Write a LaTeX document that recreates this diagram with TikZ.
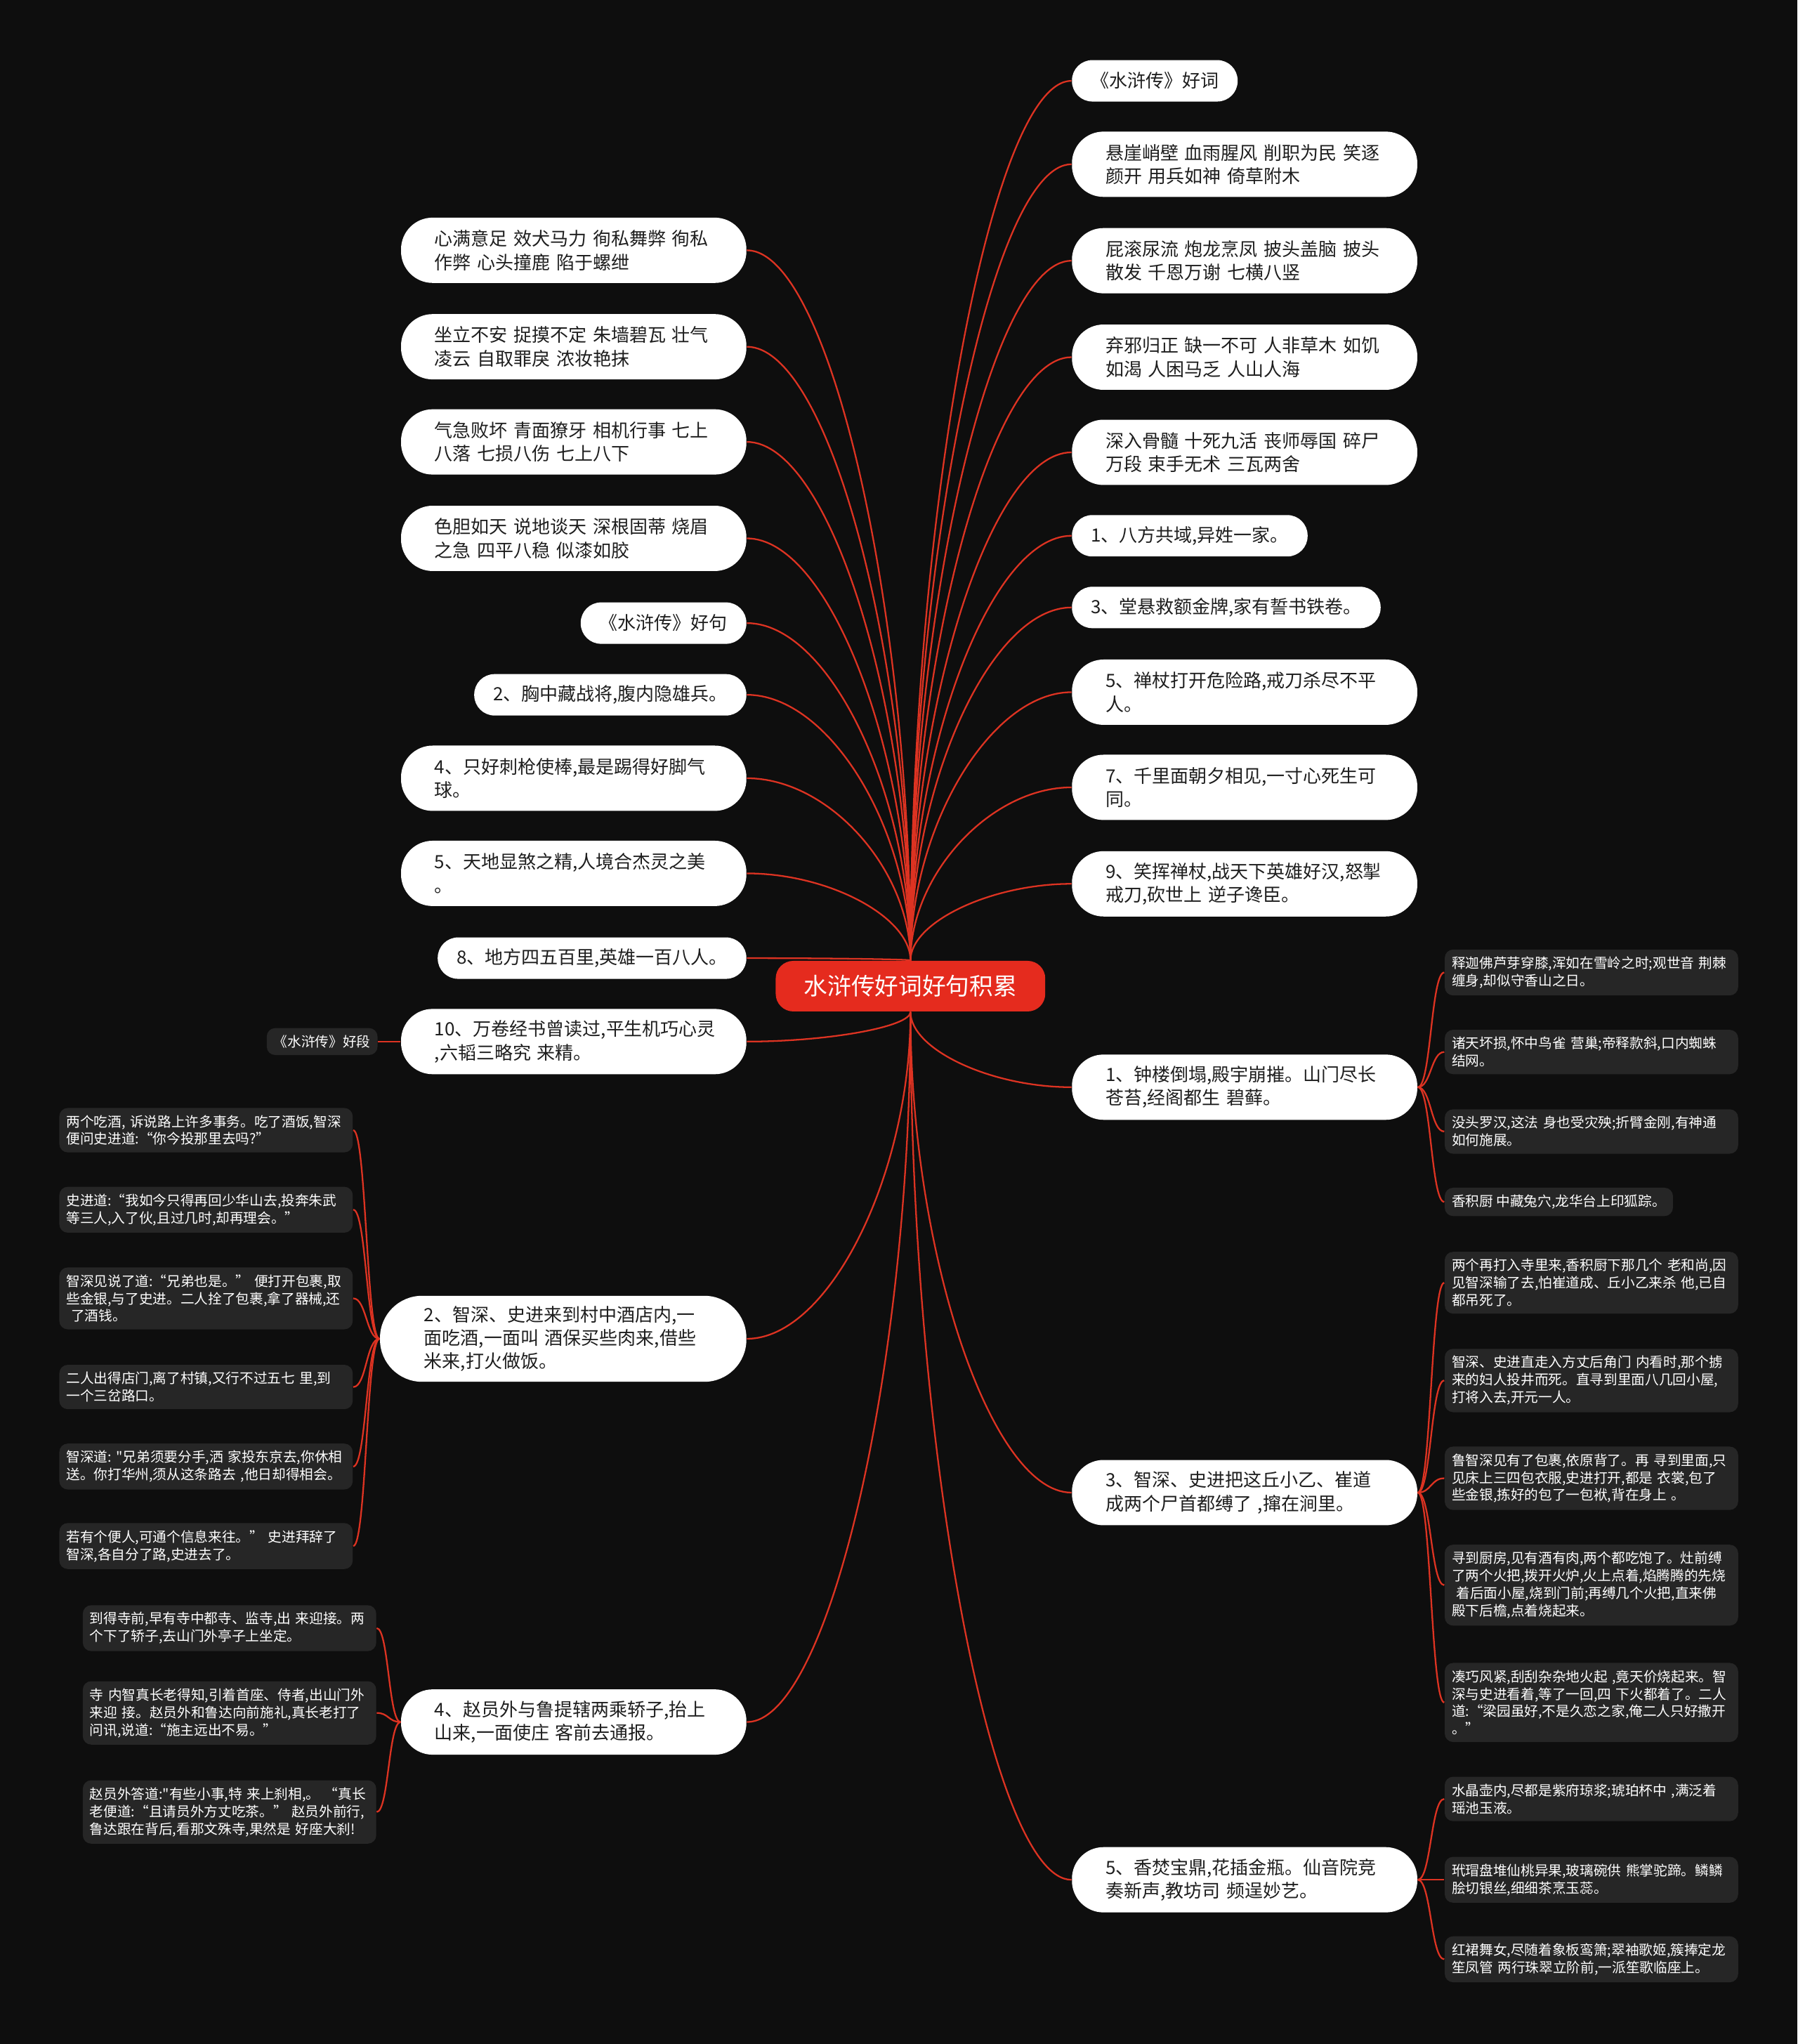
\documentclass[tikz,border=0pt]{standalone}
\usepackage{fontspec}
\setmainfont{Noto Sans CJK SC}[Ligatures=TeXOff]
\usetikzlibrary{calc}

\definecolor{bgdark}{HTML}{0E0E0E}
\definecolor{rootred}{HTML}{E52B1E}
\definecolor{wirered}{HTML}{DD3322}
\definecolor{cardgray}{HTML}{262626}
\definecolor{ink}{HTML}{1E1E1E}

\pgfdeclarelayer{back}
\pgfdeclarelayer{wires}
\pgfsetlayers{back,wires,main}

\tikzset{
  hub/.style={fill=rootred, text=white, rounded corners=0.25cm,
    minimum width=3.84cm, minimum height=0.72cm, font=\fontsize{9.6pt}{11pt}\selectfont},
  leaf/.style={fill=white, text=ink, rounded corners=0.29cm, inner xsep=0.27cm,
    minimum height=0.59cm, font=\fontsize{7.4pt}{9.5pt}\selectfont},
  wide/.style={leaf, text width=3.96cm, align=left, inner xsep=0.48cm,
    inner ysep=0.1cm, minimum height=0.93cm, rounded corners=0.45cm},
  card/.style={fill=cardgray, text=white, rounded corners=0.12cm, inner xsep=0.1cm,
    inner ysep=0.1cm, font=\fontsize{5.6pt}{7.1pt}\selectfont},
  longcard/.style={card, text width=3.98cm, align=left},
  branch/.style={draw=wirered, line width=0.65pt,
    to path={.. controls ($(\tikztostart)!0.5!(\tikztostart |- \tikztotarget)$)
      and ($(\tikztotarget)!0.5!(\tikztostart |- \tikztotarget)$) .. (\tikztotarget)}},
  twig/.style={draw=wirered, line width=0.65pt,
    to path={.. controls ($(\tikztostart)!0.5!(\tikztotarget |- \tikztostart)$)
      and ($(\tikztotarget)!0.5!(\tikztostart |- \tikztotarget)$) .. (\tikztotarget)}},
}

\begin{document}
\begin{tikzpicture}[x=0.018564cm, y=-0.018564cm]
  \begin{pgfonlayer}{back}
    \fill[bgdark] (0,0) rectangle (1379,1568);
  \end{pgfonlayer}

  \node[hub] (root) at (698.5,756.5) {水浒传好词好句积累};

  % right column
  \node[leaf, anchor=west] (r1) at (822,62) {《水浒传》好词};
  \node[wide, anchor=west] (r2) at (822,126) {悬崖峭壁~血雨腥风~削职为民~笑逐\\颜开~用兵如神~倚草附木};
  \node[wide, anchor=west] (r3) at (822,200) {屁滚尿流~炮龙烹凤~披头盖脑~披头\\散发~千恩万谢~七横八竖};
  \node[wide, anchor=west] (r4) at (822,274) {弃邪归正~缺一不可~人非草木~如饥\\如渴~人困马乏~人山人海};
  \node[wide, anchor=west] (r5) at (822,347) {深入骨髓~十死九活~丧师辱国~碎尸\\万段~束手无术~三瓦两舍};
  \node[leaf, anchor=west] (r6) at (822,411) {1、八方共域,异姓一家。};
  \node[leaf, anchor=west] (r7) at (822,466) {3、堂悬救额金牌,家有誓书铁卷。};
  \node[wide, anchor=west] (r8) at (822,531) {5、禅杖打开危险路,戒刀杀尽不平\\人。};
  \node[wide, anchor=west] (r9) at (822,604) {7、千里面朝夕相见,一寸心死生可\\同。};
  \node[wide, anchor=west] (r10) at (822,678) {9、笑挥禅杖,战天下英雄好汉,怒掣\\戒刀,砍世上~逆子谗臣。};
  \node[wide, anchor=west] (r11) at (822,834) {1、钟楼倒塌,殿宇崩摧。山门尽长\\苍苔,经阁都生~碧藓。};
  \node[wide, anchor=west] (r12) at (822,1145) {3、智深、史进把这丘小乙、崔道\\成两个尸首都缚了~,撺在涧里。};
  \node[wide, anchor=west] (r13) at (822,1442) {5、香焚宝鼎,花插金瓶。仙音院竞\\奏新声,教坊司~频逞妙艺。};

  % left column
  \node[wide, anchor=east] (l1) at (573,192) {心满意足~效犬马力~徇私舞弊~徇私\\作弊~心头撞鹿~陷于螺绁};
  \node[wide, anchor=east] (l2) at (573,266) {坐立不安~捉摸不定~朱墙碧瓦~壮气\\凌云~自取罪戾~浓妆艳抹};
  \node[wide, anchor=east] (l3) at (573,339) {气急败坏~青面獠牙~相机行事~七上\\八落~七损八伤~七上八下};
  \node[wide, anchor=east] (l4) at (573,413) {色胆如天~说地谈天~深根固蒂~烧眉\\之急~四平八稳~似漆如胶};
  \node[leaf, anchor=east] (l5) at (573,478) {《水浒传》好句};
  \node[leaf, anchor=east] (l6) at (573,533) {2、胸中藏战将,腹内隐雄兵。};
  \node[wide, anchor=east] (l7) at (573,597) {4、只好刺枪使棒,最是踢得好脚气\\球。};
  \node[wide, anchor=east] (l8) at (573,670) {5、天地显煞之精,人境合杰灵之美\\。};
  \node[leaf, anchor=east] (l9) at (573,735) {8、地方四五百里,英雄一百八人。};
  \node[wide, anchor=east] (l10) at (573,799) {10、万卷经书曾读过,平生机巧心灵\\,六韬三略究~来精。};
  \node[wide, anchor=east, inner xsep=0.63cm, minimum height=1.225cm, rounded corners=0.6cm]
    (l11) at (573,1027) {2、智深、史进来到村中酒店内,一\\面吃酒,一面叫~酒保买些肉来,借些\\米来,打火做饭。};
  \node[wide, anchor=east] (l12) at (573,1321) {4、赵员外与鲁提辖两乘轿子,抬上\\山来,一面使庄~客前去通报。};

  \node[card, anchor=east] (duan) at (290,799) {《水浒传》好段};

  % cards beside 1、钟楼倒塌
  \node[longcard, anchor=west] (bell1) at (1108,746) {释迦佛芦芽穿膝,浑如在雪岭之时;观世音~荆棘\\缠身,却似守香山之日。};
  \node[longcard, anchor=west] (bell2) at (1108,807) {诸天坏损,怀中鸟雀~营巢;帝释款斜,口内蜘蛛\\结网。};
  \node[longcard, anchor=west] (bell3) at (1108,868) {没头罗汉,这法~身也受灾殃;折臂金刚,有神通\\如何施展。};
  \node[card, anchor=west] (bell4) at (1108,922) {香积厨~中藏兔穴,龙华台上印狐踪。};

  % cards beside 3、智深、史进
  \node[longcard, anchor=west] (gully1) at (1108,984) {两个再打入寺里来,香积厨下那几个~老和尚,因\\见智深输了去,怕崔道成、丘小乙来杀~他,已自\\都吊死了。};
  \node[longcard, anchor=west] (gully2) at (1108,1059) {智深、史进直走入方丈后角门~内看时,那个掳\\来的妇人投井而死。直寻到里面八几回小屋,\\打将入去,开元一人。};
  \node[longcard, anchor=west] (gully3) at (1108,1134) {鲁智深见有了包裹,依原背了。再~寻到里面,只\\见床上三四包衣服,史进打开,都是~衣裳,包了\\些金银,拣好的包了一包袱,背在身上~。};
  \node[longcard, anchor=west] (gully4) at (1108,1216) {寻到厨房,见有酒有肉,两个都吃饱了。灶前缚\\了两个火把,拨开火炉,火上点着,焰腾腾的先烧\\~着后面小屋,烧到门前;再缚几个火把,直来佛\\殿下后檐,点着烧起来。};
  \node[longcard, anchor=west] (gully5) at (1108,1306) {凑巧风紧,刮刮杂杂地火起~,竟天价烧起来。智\\深与史进看着,等了一回,四~下火都着了。二人\\道:“梁园虽好,不是久恋之家,俺二人只好撒开\\。”};

  % cards beside 5、香焚宝鼎
  \node[longcard, anchor=west] (feast1) at (1108,1380) {水晶壶内,尽都是紫府琼浆;琥珀杯中~,满泛着\\瑶池玉液。};
  \node[longcard, anchor=west] (feast2) at (1108,1442) {玳瑁盘堆仙桃异果,玻璃碗供~熊掌驼蹄。鳞鳞\\脍切银丝,细细茶烹玉蕊。};
  \node[longcard, anchor=west] (feast3) at (1108,1503) {红裙舞女,尽随着象板鸾箫;翠袖歌姬,簇捧定龙\\笙凤管~两行珠翠立阶前,一派笙歌临座上。};

  % cards beside 2、智深、史进来到
  \node[longcard, anchor=east] (tavern1) at (271,867) {两个吃酒,~诉说路上许多事务。吃了酒饭,智深\\便问史进道:“你今投那里去吗?”};
  \node[longcard, anchor=east] (tavern2) at (271,928) {史进道:“我如今只得再回少华山去,投奔朱武\\等三人,入了伙,且过几时,却再理会。”};
  \node[longcard, anchor=east] (tavern3) at (271,996) {智深见说了道:“兄弟也是。”~便打开包裹,取\\些金银,与了史进。二人拴了包裹,拿了器械,还\\~了酒钱。};
  \node[longcard, anchor=east] (tavern4) at (271,1064) {二人出得店门,离了村镇,又行不过五七~里,到\\一个三岔路口。};
  \node[longcard, anchor=east] (tavern5) at (271,1125) {智深道:~"兄弟须要分手,洒~家投东京去,你休相\\送。你打华州,须从这条路去~,他日却得相会。};
  \node[longcard, anchor=east] (tavern6) at (271,1186) {若有个便人,可通个信息来往。”~史进拜辞了\\智深,各自分了路,史进去了。};

  % cards beside 4、赵员外
  \node[longcard, anchor=east] (temple1) at (289,1249) {到得寺前,早有寺中都寺、监寺,出~来迎接。两\\个下了轿子,去山门外亭子上坐定。};
  \node[longcard, anchor=east] (temple2) at (289,1314) {寺~内智真长老得知,引着首座、侍者,出山门外\\来迎~接。赵员外和鲁达向前施礼,真长老打了\\问讯,说道:“施主远出不易。”};
  \node[longcard, anchor=east] (temple3) at (289,1390) {赵员外答道:"有些小事,特~来上刹相,。~“真长\\老便道:“且请员外方丈吃茶。”~赵员外前行,\\鲁达跟在背后,看那文殊寺,果然是~好座大刹!};

  \begin{pgfonlayer}{wires}
    \foreach \i in {1,...,10} \draw[branch] (root.north) to (r\i.west);
    \foreach \i in {11,12,13} \draw[branch] (root.south) to (r\i.west);
    \foreach \i in {1,...,9} \draw[branch] (root.north) to (l\i.east);
    \foreach \i in {10,11,12} \draw[branch] (root.south) to (l\i.east);
    \foreach \i in {1,...,4} \draw[twig] (r11.east) to (bell\i.west);
    \foreach \i in {1,...,5} \draw[twig] (r12.east) to (gully\i.west);
    \foreach \i in {1,2,3} \draw[twig] (r13.east) to (feast\i.west);
    \foreach \i in {1,...,6} \draw[twig] (l11.west) to (tavern\i.east);
    \foreach \i in {1,2,3} \draw[twig] (l12.west) to (temple\i.east);
    \draw[twig] (l10.west) to (duan.east);
  \end{pgfonlayer}
\end{tikzpicture}
\end{document}
